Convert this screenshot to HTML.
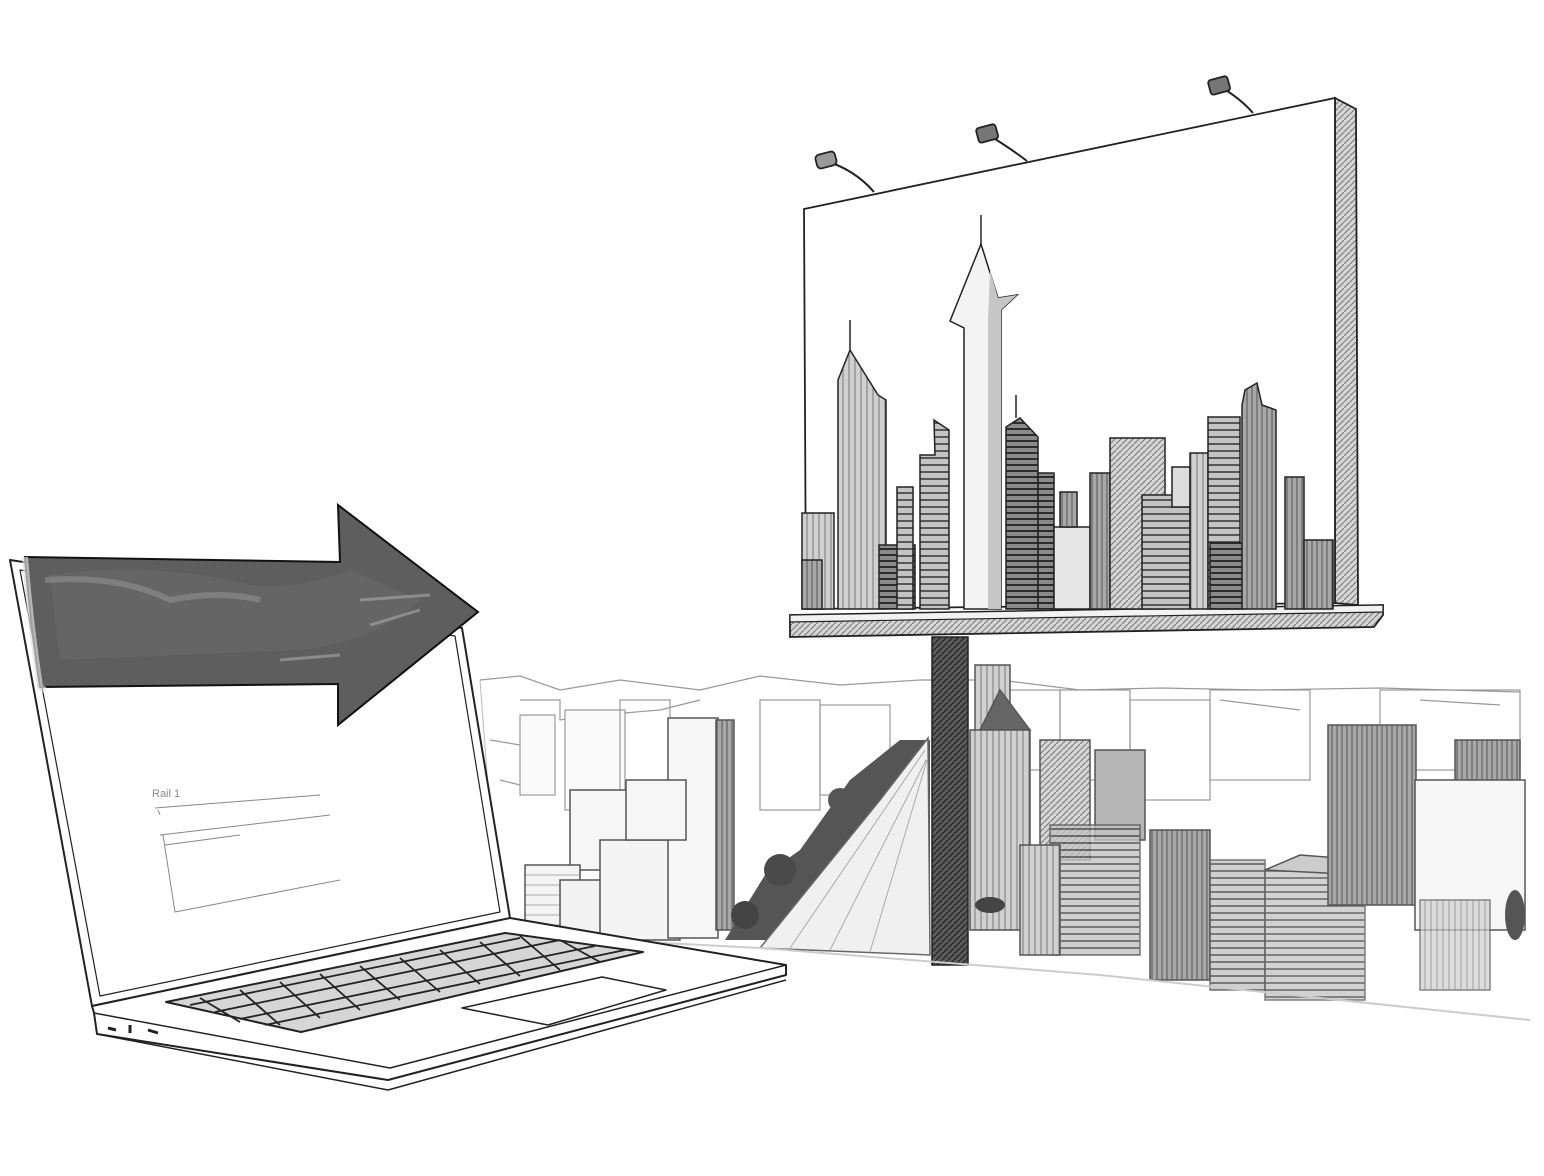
<!DOCTYPE html>
<html><head><meta charset="utf-8"><style>html,body{margin:0;padding:0;background:#fff}svg{display:block}</style></head>
<body>
<svg width="1544" height="1176" viewBox="0 0 1544 1176" xmlns="http://www.w3.org/2000/svg">
<defs>
<pattern id="hz" width="8" height="7" patternUnits="userSpaceOnUse"><rect width="8" height="7" fill="#c4c4c4"/><line x1="0" y1="3" x2="8" y2="3" stroke="#444" stroke-width="1.7"/></pattern>
<pattern id="hzd" width="8" height="6" patternUnits="userSpaceOnUse"><rect width="8" height="6" fill="#8a8a8a"/><line x1="0" y1="3" x2="8" y2="3" stroke="#222" stroke-width="1.8"/></pattern>
<pattern id="vt" width="6" height="8" patternUnits="userSpaceOnUse"><rect width="6" height="8" fill="#d0d0d0"/><line x1="3" y1="0" x2="3" y2="8" stroke="#777" stroke-width="1"/></pattern>
<pattern id="vtd" width="5" height="8" patternUnits="userSpaceOnUse"><rect width="5" height="8" fill="#a8a8a8"/><line x1="2" y1="0" x2="2" y2="8" stroke="#555" stroke-width="1"/></pattern>
<pattern id="dg" width="6" height="6" patternUnits="userSpaceOnUse"><rect width="6" height="6" fill="#d5d5d5"/><line x1="0" y1="6" x2="6" y2="0" stroke="#777" stroke-width="1"/></pattern>
<pattern id="pl" width="6" height="6" patternUnits="userSpaceOnUse"><rect width="6" height="6" fill="#5a5a5a"/><line x1="0" y1="6" x2="6" y2="0" stroke="#222" stroke-width="1.2"/></pattern>
<pattern id="hl" width="10" height="10" patternUnits="userSpaceOnUse"><rect width="10" height="10" fill="#f4f4f4"/><line x1="0" y1="5" x2="10" y2="5" stroke="#aaa" stroke-width="1"/></pattern>
</defs>

<!-- background city -->
<g stroke="#999" stroke-width="1.2" fill="none">
<path d="M480 680 L520 676 L560 690 L620 680 L700 690 L760 676 L840 685 L920 680 L1000 680 L1080 690 L1160 688 L1260 690 L1380 688 L1520 692"/>
<path d="M520 700 L560 700 L560 720 L600 715 L660 710 L700 700"/>
<path d="M490 740 L520 745 M500 780 L540 790 M1420 700 L1500 705 M1220 700 L1300 710"/>
<rect x="520" y="715" width="35" height="80" fill="#fafafa"/>
<rect x="565" y="710" width="60" height="100" fill="#fafafa"/>
<rect x="620" y="700" width="50" height="120"/>
<rect x="760" y="700" width="60" height="110"/>
<rect x="820" y="705" width="70" height="90"/>
<rect x="1000" y="690" width="60" height="80"/>
<rect x="1060" y="690" width="70" height="90"/>
<rect x="1130" y="700" width="80" height="100"/>
<rect x="1210" y="690" width="100" height="90"/>
<rect x="1380" y="690" width="140" height="80"/>
</g>
<g stroke="#555" stroke-width="1.5">
<rect x="570" y="790" width="70" height="80" fill="#f6f6f6"/>
<rect x="525" y="865" width="55" height="70" fill="url(#hl)"/>
<rect x="560" y="880" width="50" height="55" fill="#f2f2f2"/>
<rect x="600" y="840" width="80" height="100" fill="#f4f4f4"/>
<rect x="668" y="718" width="50" height="220" fill="#f7f7f7"/>
<rect x="716" y="720" width="18" height="210" fill="url(#vtd)"/>
<rect x="626" y="780" width="60" height="60" fill="#f6f6f6"/>
<path d="M725 940 L765 875 L800 850 L850 780 L900 740 L930 740 L930 940 Z" fill="#555" stroke="none"/>
<circle cx="745" cy="915" r="14" fill="#444" stroke="none"/>
<circle cx="780" cy="870" r="16" fill="#4a4a4a" stroke="none"/>
<circle cx="840" cy="800" r="12" fill="#555" stroke="none"/>
<path d="M760 948 L880 800 L928 738 L930 955 Z" fill="#f0f0f0" stroke="#666"/>
<path d="M790 948 L925 750 M830 950 L926 760 M870 952 L927 760" stroke="#aaa" stroke-width="1"/>
<!-- pole -->
<rect x="932" y="637" width="36" height="328" fill="url(#pl)" stroke="#222"/>
<!-- right city -->
<rect x="975" y="665" width="35" height="80" fill="url(#vt)"/>
<path d="M980 730 L1000 690 L1030 730 Z" fill="#666"/>
<rect x="970" y="730" width="60" height="200" fill="url(#vt)"/>
<rect x="1040" y="740" width="50" height="120" fill="url(#dg)"/>
<rect x="1095" y="750" width="50" height="90" fill="#b5b5b5"/>
<rect x="1050" y="825" width="90" height="130" fill="url(#hz)" opacity="0.8"/>
<rect x="1020" y="845" width="40" height="110" fill="url(#vt)"/>
<rect x="1150" y="830" width="60" height="150" fill="url(#vtd)"/>
<rect x="1210" y="860" width="55" height="130" fill="url(#hz)" opacity="0.8"/>
<rect x="1265" y="870" width="100" height="130" fill="url(#hz)" opacity="0.75"/>
<path d="M1265 870 L1300 855 L1365 860 L1365 875 Z" fill="#ccc"/>
<rect x="1328" y="725" width="88" height="180" fill="url(#vtd)"/>
<rect x="1455" y="740" width="65" height="50" fill="url(#vtd)"/>
<rect x="1415" y="780" width="110" height="150" fill="#f7f7f7"/>
<rect x="1420" y="900" width="70" height="90" fill="url(#vt)" opacity="0.7"/>
<ellipse cx="1515" cy="915" rx="10" ry="25" fill="#555" stroke="none"/>
<ellipse cx="990" cy="905" rx="15" ry="8" fill="#444" stroke="none"/>
</g>
<path d="M510 935 L760 948 L1100 975 L1530 1020" stroke="#ccc" stroke-width="2" fill="none"/>
<path d="M480 680 L500 945" stroke="#bbb" fill="none"/>

<!-- billboard -->
<g stroke="#222" stroke-width="1.8">
<path d="M1335 98 L1356 109 L1358 605 L1335 603 Z" fill="url(#dg)"/>
<path d="M804 209 L1335 98 L1335 603 L806 609 Z" fill="#fff"/>
<path d="M790 615 L1383 605 L1383 615 L1374 627 L790 637 Z" fill="url(#dg)"/>
<path d="M790 615 L1383 605 L1383 612 L790 622 Z" fill="#f2f2f2" stroke-width="1.2"/>
<path d="M826 161 Q855 170 874 192 M987 134 Q1010 148 1027 161 M1219 86 Q1240 98 1253 113" fill="none" stroke-width="2"/>
<rect x="816" y="153" width="20" height="14" rx="4" fill="#999" transform="rotate(-15 826 160)"/>
<rect x="977" y="126" width="20" height="15" rx="3" fill="#777" transform="rotate(-15 987 133)"/>
<rect x="1209" y="78" width="20" height="15" rx="3" fill="#777" transform="rotate(-15 1219 85)"/>
<g stroke-width="1.5">
<rect x="802" y="513" width="32" height="96" fill="url(#vt)"/>
<rect x="802" y="560" width="20" height="49" fill="url(#vtd)"/>
<path d="M838 380 L850 350 L878 395 L886 400 L886 609 L838 609 Z" fill="url(#vt)"/>
<path d="M850 350 L850 320" fill="none"/>
<rect x="879" y="545" width="36" height="64" fill="url(#hzd)"/>
<rect x="897" y="487" width="16" height="122" fill="url(#hz)"/>
<path d="M920 455 L935 455 L934 420 L949 430 L949 609 L920 609 Z" fill="url(#hz)"/>
<path d="M981 244 L950 321 L964 328 L964 609 L1001 609 L1001 310 L1017 295 L998 298 Z" fill="#f3f3f3"/>
<path d="M981 244 L981 215" fill="none"/>
<path d="M990 270 L998 298 L1017 295 L1001 310 L1001 609 L988 609 L988 320 Z" fill="#c6c6c6" stroke="none"/>
<path d="M1006 427 L1020 418 L1038 437 L1038 609 L1006 609 Z" fill="url(#hzd)"/>
<path d="M1016 418 L1016 395" fill="none"/>
<rect x="1038" y="473" width="16" height="136" fill="url(#hzd)"/>
<rect x="1054" y="527" width="36" height="82" fill="#e6e6e6"/>
<rect x="1060" y="492" width="17" height="35" fill="url(#vtd)"/>
<rect x="1090" y="473" width="20" height="136" fill="url(#vtd)"/>
<rect x="1110" y="438" width="55" height="171" fill="url(#dg)"/>
<rect x="1142" y="495" width="48" height="114" fill="url(#hz)"/>
<rect x="1172" y="467" width="18" height="40" fill="#ddd"/>
<rect x="1190" y="453" width="18" height="156" fill="url(#vt)"/>
<rect x="1208" y="417" width="32" height="192" fill="url(#hz)"/>
<rect x="1210" y="543" width="35" height="66" fill="url(#hzd)"/>
<path d="M1242 405 L1245 390 L1257 383 L1262 405 L1276 410 L1276 609 L1242 609 Z" fill="url(#vtd)"/>
<rect x="1285" y="477" width="19" height="132" fill="url(#vtd)"/>
<rect x="1304" y="540" width="29" height="69" fill="url(#vtd)"/>
</g>
</g>

<!-- laptop -->
<g stroke="#222" stroke-width="2" stroke-linejoin="round">
<path d="M10 560 L462 628 L510 918 L92 1006 Z" fill="#fff"/>
<path d="M20 570 L455 636 L500 912 L100 996 Z" fill="none" stroke-width="1.2"/>
<path d="M92 1006 L510 918 L786 965 L786 975 L388 1080 L97 1034 L94 1013 Z" fill="#fff"/>
<path d="M94 1013 L390 1068 L786 965" fill="none" stroke-width="1.5"/>
<path d="M97 1034 L388 1090 L786 980" fill="none" stroke-width="1.5"/>
<path d="M166 1002 L505 933 L643 952 L301 1032 Z" fill="#d6d6d6"/>
<g stroke-width="1.8" fill="none">
<path d="M190 1005 L520 938 M215 1012 L560 940 M240 1019 L595 946 M265 1025 L625 950"/>
<path d="M200 998 L240 1022 M240 990 L280 1025 M280 982 L320 1018 M320 974 L360 1010 M360 966 L400 1000 M400 958 L440 992 M440 950 L480 984 M480 942 L520 976 M520 936 L560 970 M560 940 L600 962"/>
</g>
<path d="M462 1008 L602 977 L666 990 L548 1025 Z" fill="#fff" stroke-width="1.5"/>
<path d="M108 1028 l8 2 M130 1025 l0 8 M148 1030 l10 3" stroke-width="3"/>
<g stroke="#888" stroke-width="1" fill="none">
<path d="M155 808 L320 795 M158 810 L160 815 M160 835 L330 815 M163 835 L175 912 L340 880 M165 845 L240 835"/>
<text x="152" y="797" font-family="Liberation Sans, sans-serif" font-size="11" fill="#888" stroke="none">Rail 1</text>
</g>
</g>

<!-- dark arrow -->
<path d="M25 557 L340 562 L338 505 L478 612 L338 725 L338 684 L40 687 Q30 620 25 557 Z" fill="#5e5e5e" stroke="#111" stroke-width="2"/>
<path d="M50 575 Q150 560 250 585 Q300 590 350 570 L420 600 Q380 640 300 650 L60 660 Z" fill="#6a6a6a" opacity="0.6"/>
<path d="M45 580 Q120 575 170 600 Q220 590 260 600" stroke="#999" stroke-width="6" fill="none" opacity="0.5"/>
<path d="M360 600 L430 595 M370 625 L420 610 M280 660 L340 655" stroke="#aaa" stroke-width="3" fill="none" opacity="0.6"/>
<path d="M25 557 Q30 620 40 687 L45 690" stroke="#ddd" stroke-width="6" fill="none" opacity="0.7"/>
</svg>
</body></html>
